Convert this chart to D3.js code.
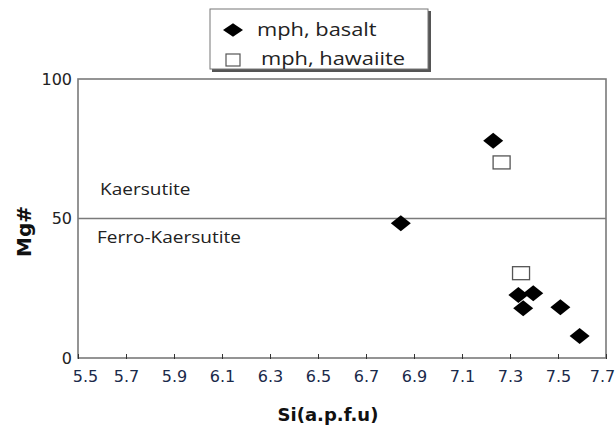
<!DOCTYPE html>
<html>
<head>
<meta charset="utf-8">
<script src="https://cdn.jsdelivr.net/npm/d3@7"></script>
<style>
  body { margin: 0; background: #fff; }
</style>
</head>
<body>
<script>
// Si (a.p.f.u) vs Mg# for the two sample groups
var basaltSi = [7.23, 6.845, 7.335, 7.397, 7.355, 7.51, 7.59];
var basaltMg = [77.9, 48.3, 22.6, 23.2, 17.8, 18.2, 7.9];
var hawaiiteSi = [7.265, 7.346];
var hawaiiteMg = [70.1, 30.4];
var xTicks = [5.5, 5.7, 5.9, 6.1, 6.3, 6.5, 6.7, 6.9, 7.1, 7.3, 7.5, 7.7];
var yTicks = [0, 50, 100];
var seriesNames = ["mph, basalt", "mph, hawaiite"];
var fieldNames = ["Kaersutite", "Ferro-Kaersutite"];

var margin = {top: 79, right: 10, bottom: 69, left: 78},
    width = 616 - margin.left - margin.right,
    height = 427 - margin.top - margin.bottom;

var x = d3.scaleLinear().domain([5.5, 7.7]).range([0, width]);
var y = d3.scaleLinear().domain([0, 100]).range([height, 0]);

var svg = d3.select("body").append("svg")
    .attr("width", 616)
    .attr("height", 427)
  .append("g")
    .attr("transform", "translate(" + margin.left + "," + margin.top + ")");

var axisColor = "#7a7a7a";

// text that is a little wider than the font, like the original figure
function wideText(sel, px, py, sx) {
  return sel.append("text")
    .attr("transform", "translate(" + px + "," + py + ") scale(" + sx + ",1)");
}

// frame
svg.append("rect")
    .attr("width", width)
    .attr("height", height)
    .attr("fill", "none")
    .attr("stroke", axisColor)
    .attr("stroke-width", 1.6);

// Mg# = 50 boundary
svg.append("line")
    .attr("x1", 0).attr("x2", width)
    .attr("y1", y(50)).attr("y2", y(50))
    .attr("stroke", axisColor)
    .attr("stroke-width", 1.4);

// x axis
var xAxis = svg.append("g")
    .attr("transform", "translate(0," + height + ")")
    .call(d3.axisBottom(x).tickValues(xTicks).tickFormat(d3.format(".1f"))
        .tickSizeInner(-5).tickSizeOuter(0).tickPadding(13));
xAxis.select(".domain").remove();
xAxis.selectAll(".tick line").attr("stroke", "#333").attr("stroke-width", 1)
    .attr("y2", -4).attr("y1", 1);
xAxis.selectAll("text")
    .attr("fill", "#1a2a4a")
    .style("font-family", "DejaVu Sans")
    .style("font-size", "16px");
xAxis.selectAll("text").filter(function(d) { return d === 5.5; }).attr("dx", 7);
xAxis.selectAll("text").filter(function(d) { return d === 7.7; }).attr("dx", -4);

// y axis
var yAxis = svg.append("g")
    .call(d3.axisLeft(y).tickValues(yTicks).tickSize(0).tickPadding(6));
yAxis.select(".domain").remove();
yAxis.selectAll("text")
    .attr("fill", "#222")
    .style("font-family", "DejaVu Sans")
    .style("font-size", "16px");

// axis titles
svg.append("text")
    .attr("x", 250)
    .attr("y", height + 63)
    .attr("text-anchor", "middle")
    .style("font-family", "DejaVu Sans")
    .style("font-weight", "bold")
    .style("font-size", "18px")
    .attr("fill", "#111")
    .text("Si(a.p.f.u)");

svg.append("text")
    .attr("transform", "translate(-47," + (y(50) + 13) + ") rotate(-90)")
    .attr("text-anchor", "middle")
    .style("font-family", "DejaVu Sans")
    .style("font-weight", "bold")
    .style("font-size", "20px")
    .attr("fill", "#111")
    .text("Mg#");

// field labels
wideText(svg, 22, y(50) - 24, 1.12)
    .style("font-family", "Open Sans")
    .style("font-size", "17px")
    .attr("fill", "#222")
    .text(fieldNames[0]);
wideText(svg, 19, y(50) + 24, 1.12)
    .style("font-family", "Open Sans")
    .style("font-size", "17px")
    .attr("fill", "#222")
    .text(fieldNames[1]);

var diamond = "M0,-8L10,0L0,8L-10,0Z";

// hawaiite squares
svg.selectAll(".haw")
    .data(hawaiiteSi.map(function(d, i) { return {si: d, mg: hawaiiteMg[i]}; }))
  .enter().append("rect")
    .attr("class", "haw")
    .attr("x", function(d) { return x(d.si) - 8.5; })
    .attr("y", function(d) { return y(d.mg) - 6.5; })
    .attr("width", 17)
    .attr("height", 13)
    .attr("fill", "#fff")
    .attr("stroke", "#555")
    .attr("stroke-width", 1.3);

// basalt diamonds
svg.selectAll(".bas")
    .data(basaltSi.map(function(d, i) { return {si: d, mg: basaltMg[i]}; }))
  .enter().append("path")
    .attr("class", "bas")
    .attr("d", diamond)
    .attr("transform", function(d) { return "translate(" + x(d.si) + "," + y(d.mg) + ")"; })
    .attr("fill", "#000");

// legend
var legend = d3.select("svg").append("g");
legend.append("rect")
    .attr("x", 212).attr("y", 11)
    .attr("width", 219).attr("height", 61)
    .attr("fill", "#555");
legend.append("rect")
    .attr("x", 210).attr("y", 9)
    .attr("width", 218).attr("height", 60)
    .attr("fill", "#fff")
    .attr("stroke", "#777")
    .attr("stroke-width", 1);
legend.append("path")
    .attr("d", diamond)
    .attr("transform", "translate(233,30) scale(1,0.85)")
    .attr("fill", "#000");
legend.append("rect")
    .attr("x", 226).attr("y", 54)
    .attr("width", 14).attr("height", 12)
    .attr("fill", "#fff")
    .attr("stroke", "#555")
    .attr("stroke-width", 1.2);
seriesNames.forEach(function(name, i) {
  wideText(legend, i === 0 ? 257 : 261, i === 0 ? 36 : 65, 1.15)
      .style("font-family", "Open Sans")
      .style("font-size", "19px")
      .attr("fill", "#222")
      .text(name);
});
</script>
</body>
</html>
